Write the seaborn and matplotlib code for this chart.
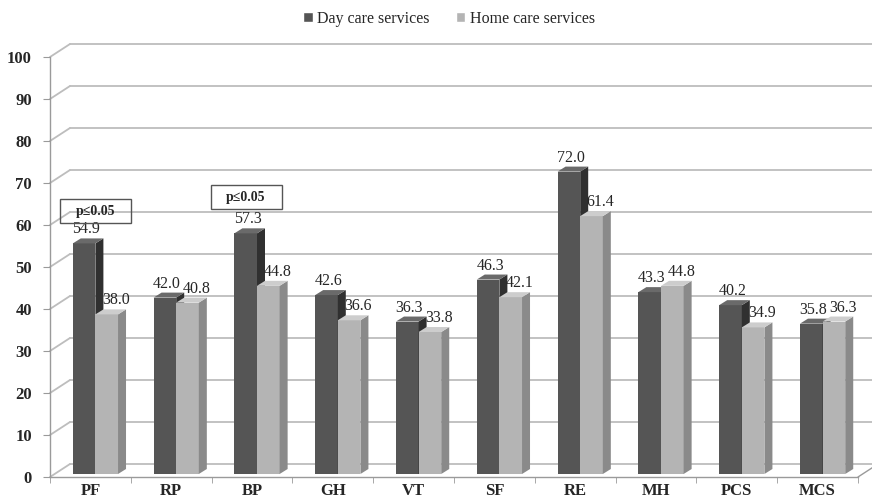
import numpy as np
import pandas as pd
import matplotlib
matplotlib.use("Agg")
import matplotlib.pyplot as plt
import matplotlib.transforms as mtransforms
from matplotlib.patches import Polygon, Patch, Rectangle
import seaborn as sns

# SF-36 domains and mean scores
domains = ["PF", "RP", "BP", "GH", "VT", "SF", "RE", "MH", "PCS", "MCS"]
day_care = [54.9, 42.0, 57.3, 42.6, 36.3, 46.3, 72.0, 43.3, 40.2, 35.8]
home_care = [38.0, 40.8, 44.8, 36.6, 33.8, 42.1, 61.4, 44.8, 34.9, 36.3]
services = ["Day care services", "Home care services"]
sig_domains = ["PF", "BP"]
y_ticks = list(range(0, 101, 10))

df = pd.DataFrame({
    "Domain": domains * 2,
    "Service": [services[0]] * len(domains) + [services[1]] * len(domains),
    "Score": day_care + home_care,
})

sns.set_style("white")
plt.rcParams["font.family"] = ["Liberation Serif", "DejaVu Serif"]

# colours: front, side, top
dark = ("#555555", "#303030", "#6a6a6a")
light = ("#b4b4b4", "#8a8a8a", "#cdcdcd")
grid_c = "#bdbdbd"
axis_c = "#9a9a9a"

fig = plt.figure(figsize=(8.72, 5), dpi=100)
ax = fig.add_axes([50 / 872, 23 / 500, 808 / 872, 420 / 500])
ax.set_xlim(-0.5, len(domains) - 0.5)
ax.set_ylim(0, 100)

def shifted(dx_px, dy_px):
    return ax.transData + mtransforms.ScaledTranslation(dx_px / 100, dy_px / 100, fig.dpi_scale_trans)

# pixel -> data conversion
px_x = (ax.get_xlim()[1] - ax.get_xlim()[0]) / ax.bbox.width
px_y = 100 / ax.bbox.height

back = shifted(20, 13)
n = len(domains)
# back wall gridlines + left diagonals
for v in y_ticks:
    ax.plot([-0.5, n + 0.5], [v, v], color=grid_c, lw=1.3, transform=back, clip_on=False, zorder=0.5)
    ax.plot([-0.5, -0.5 + 20 * px_x], [v, v + 13 * px_y], color=grid_c, lw=1.3, clip_on=False, zorder=0.5)
# right floor edge
ax.plot([n - 0.5, n - 0.5 + 20 * px_x], [0, 13 * px_y], color=axis_c, lw=1.0, clip_on=False, zorder=0.6)

sns.barplot(data=df, x="Domain", y="Score", hue="Service", order=domains,
            hue_order=services, palette=[dark[0], light[0]], width=0.56, gap=0,
            saturation=1, legend=False, ax=ax, linewidth=0)

bar_tr = shifted(5, 3)
ddx, ddy = 8 * px_x, 5 * px_y
bars = list(ax.patches)
for i, p in enumerate(bars):
    front, side, top = dark if i < n else light
    z = 2 if i < n else 3
    p.set_transform(bar_tr)
    p.set_zorder(z)
    x, w, h = p.get_x(), p.get_width(), p.get_height()
    ax.add_patch(Polygon([(x + w, 0), (x + w, h), (x + w + ddx, h + ddy), (x + w + ddx, ddy)],
                         closed=True, facecolor=side, edgecolor="none", transform=bar_tr, zorder=z + 0.1))
    ax.add_patch(Polygon([(x, h), (x + w, h), (x + w + ddx, h + ddy), (x + ddx, h + ddy)],
                         closed=True, facecolor=top, edgecolor="none", transform=bar_tr, zorder=z + 0.1))
    ax.annotate(f"{h:.1f}", xy=(x + w / 2, h), xycoords=bar_tr,
                xytext=(2 if i < n else 9, 6), textcoords="offset pixels",
                ha="center", va="bottom", fontsize=11.5, zorder=5)

# significance boxes (offset in pixels from the bar top)
box_offsets = [(5, 35), (-6, 39)]
box_w, box_h = 71 * px_x, 24 * px_y
for d, (ox, oy) in zip(sig_domains, box_offsets):
    k = domains.index(d)
    h = day_care[k]
    cx, cy = k + ox * px_x, h + oy * px_y
    ax.add_patch(Rectangle((cx - box_w / 2, cy - box_h / 2), box_w, box_h, facecolor="none",
                           edgecolor="#555555", lw=1.0, zorder=6))
    ax.text(cx, cy, "p≤0.05", ha="center", va="center", fontsize=10,
            fontweight="bold", zorder=6)

for s in ["top", "right"]:
    ax.spines[s].set_visible(False)
for s in ["left", "bottom"]:
    ax.spines[s].set_color(axis_c)
    ax.spines[s].set_linewidth(1.0)

ax.set_yticks(y_ticks)
ax.set_yticklabels([str(v) for v in y_ticks], fontsize=12, fontweight="bold")
ax.tick_params(axis="y", length=5, color=axis_c, pad=8, left=True)
ax.set_xticks(range(n))
ax.set_xticklabels(domains, fontsize=12, fontweight="bold")
ax.tick_params(axis="x", which="major", length=0, pad=4)
ax.set_xticks(np.arange(-0.5, n, 1.0), minor=True)
ax.tick_params(axis="x", which="minor", length=4, color=axis_c, bottom=True)
ax.set_xlabel("")
ax.set_ylabel("")
ax.grid(False)

handles = [Patch(facecolor=dark[0]), Patch(facecolor=light[0])]
fig.legend(handles, services, loc="center", bbox_to_anchor=(0.515, 0.962), ncol=2,
           frameon=False, fontsize=11.5, handlelength=0.6, handleheight=0.6,
           handletextpad=0.3, columnspacing=1.6)

fig.savefig("out.png", dpi=100)
